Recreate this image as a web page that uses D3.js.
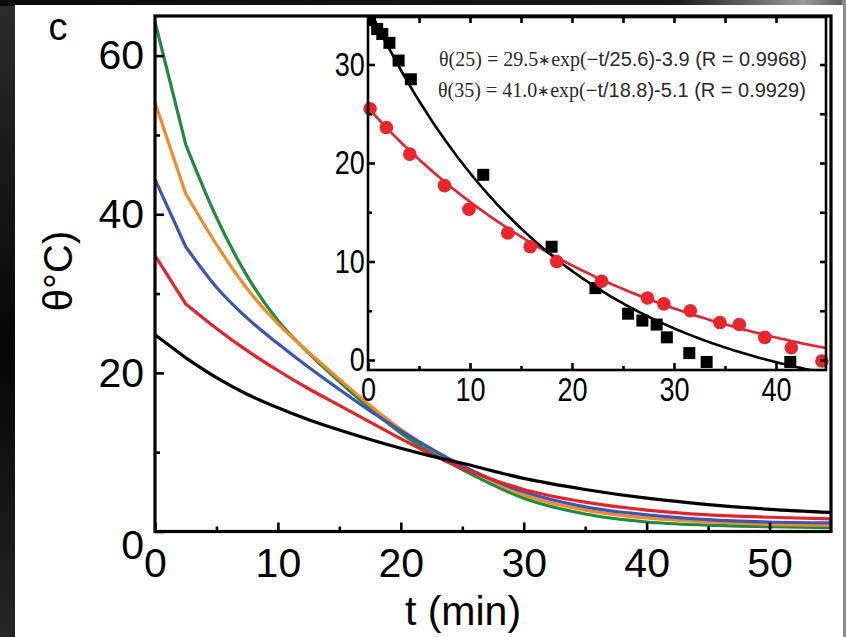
<!DOCTYPE html>
<html>
<head>
<meta charset="utf-8">
<script src="https://cdn.jsdelivr.net/npm/d3@7"></script>
<style>
  html, body { margin: 0; padding: 0; background: #000; }
  svg { display: block; }
</style>
</head>
<body>
<svg id="chart" width="846" height="637"></svg>
<script>
// ---- Main panel: cooling curves for five starting temperatures ----
const times = [0, 2.5, 5, 7.5, 10, 12.5, 15, 17.5, 20, 22.5, 25, 30, 35, 40, 45, 50, 55];
const theta25 = [24.8, 21.9, 19.4, 17.3, 15.6, 14.1, 12.8, 11.6, 10.5, 9.5, 8.6, 6.7, 5.3, 4.2, 3.4, 2.8, 2.4];
const theta35 = [34.8, 28.7, 25.6, 22.8, 20.3, 18.0, 15.9, 13.8, 11.7, 9.7, 8.0, 5.3, 3.7, 2.7, 2.1, 1.8, 1.6];
const theta45 = [44.4, 35.9, 30.8, 26.9, 23.7, 20.7, 17.9, 15.2, 12.7, 10.4, 8.3, 5.0, 3.1, 2.1, 1.5, 1.2, 1.1];
const theta55 = [54.1, 42.6, 36.2, 30.6, 26.2, 22.6, 19.2, 15.9, 12.9, 10.4, 8.3, 4.6, 2.7, 1.7, 1.2, 0.9, 0.8];
const theta65 = [64.3, 48.8, 39.6, 32.2, 26.6, 22.5, 18.9, 15.5, 12.4, 9.9, 7.8, 4.2, 2.2, 1.2, 0.8, 0.6, 0.5];
const mainSeries = [
  { name: "65", values: theta65, color: "#1e8b3e" },
  { name: "55", values: theta55, color: "#f28a2a" },
  { name: "45", values: theta45, color: "#3b56b5" },
  { name: "35", values: theta35, color: "#e5232b" },
  { name: "25", values: theta25, color: "#000000" }
];
const mainXTicks = [0, 10, 20, 30, 40, 50];
const mainXMinor = [5, 15, 25, 35, 45];
const mainYTicks = [0, 20, 40, 60];
const mainYMinor = [10, 30, 50];

// ---- Inset: measured points and exponential fits ----
const squareT = [0.2, 0.9, 1.4, 2.1, 3.0, 4.2, 11.3, 18.0, 22.3, 25.5, 26.9, 28.3, 29.3, 31.5, 33.2, 41.4];
const squareTheta = [34.5, 33.6, 33.1, 32.2, 30.4, 28.5, 18.8, 11.5, 7.3, 4.7, 4.0, 3.6, 2.3, 0.7, -0.2, -0.2];
const circleT = [0.2, 1.8, 4.1, 7.5, 9.9, 13.7, 15.9, 18.5, 22.9, 27.4, 29.0, 31.6, 34.5, 36.4, 38.9, 41.5, 44.5];
const circleTheta = [25.5, 23.6, 20.9, 17.7, 15.3, 12.9, 11.5, 10.0, 8.0, 6.3, 5.7, 5.0, 3.8, 3.6, 2.3, 1.25, -0.1];
// fit parameters as printed: theta = A*exp(-t/tau) + C
const fitLabels = ["θ(25)", "θ(35)"];
const fitA = [29.5, 41.0];
const fitTau = [25.6, 18.8];
const fitC = [-3.9, -5.1];
const fitR = ["0.9968", "0.9929"];
const fitColors = ["#e5232b", "#000000"];
const insetXTicks = [0, 10, 20, 30, 40];
const insetXMinor = [5, 15, 25, 35];
const insetYTicks = [0, 10, 20, 30];
const insetYMinor = [5, 15, 25];

const svg = d3.select("#chart");
const sans = "'Liberation Sans', Arial, sans-serif";
const serif = "'Liberation Serif', 'Times New Roman', serif";

// ---- backdrop ----
const defs = svg.append("defs");
const leftGrad = defs.append("linearGradient").attr("id", "leftGrad")
  .attr("x1", 0).attr("y1", 0).attr("x2", 0).attr("y2", 1);
leftGrad.append("stop").attr("offset", "0%").attr("stop-color", "#2c2c2c");
leftGrad.append("stop").attr("offset", "55%").attr("stop-color", "#050505");
leftGrad.append("stop").attr("offset", "100%").attr("stop-color", "#262626");
const topGrad = defs.append("linearGradient").attr("id", "topGrad")
  .attr("x1", 0).attr("y1", 0).attr("x2", 1).attr("y2", 0);
topGrad.append("stop").attr("offset", "0%").attr("stop-color", "#0a0a0a");
topGrad.append("stop").attr("offset", "80%").attr("stop-color", "#1a1a1a");
topGrad.append("stop").attr("offset", "95%").attr("stop-color", "#9a9a9a");
topGrad.append("stop").attr("offset", "100%").attr("stop-color", "#555");

svg.append("rect").attr("width", 846).attr("height", 637).attr("fill", "url(#leftGrad)");
svg.append("rect").attr("width", 846).attr("height", 6).attr("fill", "url(#topGrad)");
svg.append("rect").attr("x", 842).attr("y", 0).attr("width", 4).attr("height", 637).attr("fill", "#8c8c8c");
svg.append("rect").attr("x", 15).attr("y", 5).attr("width", 828).attr("height", 632).attr("fill", "#ffffff");

// ---- main chart ----
const M = { left: 155, right: 831, top: 16, bottom: 531.5 };
const x = d3.scaleLinear().domain([0, 55]).range([M.left, M.right]);
const y = d3.scaleLinear().domain([0, 65]).range([M.bottom, M.top]);

const main = svg.append("g");
// first reading interval is drawn straight (sharp initial drop), the rest smoothed
const lineStraight = d3.line().x(d => x(d[0])).y(d => y(d[1]));
const lineSmooth = d3.line().x(d => x(d[0])).y(d => y(d[1])).curve(d3.curveMonotoneX);
function curvePath(values) {
  const pts = times.map((t, i) => [t, values[i]]);
  const head = lineStraight(pts.slice(0, 2));
  const tail = lineSmooth(pts.slice(1)).replace(/^M[^A-Za-z]*/, "");
  return head + tail;
}
main.append("g").selectAll("path").data(mainSeries).join("path")
  .attr("d", s => curvePath(s.values))
  .attr("fill", "none").attr("stroke", s => s.color)
  .attr("stroke-width", 3.2).attr("stroke-linejoin", "round");

function styleAxis(g, size) {
  g.select(".domain").remove();
  g.selectAll(".tick line").attr("stroke", "#000").attr("stroke-width", 2.6);
  g.selectAll(".tick text").attr("fill", "#000").attr("font-family", sans).attr("font-size", size);
}

const xAxis = main.append("g").attr("transform", `translate(0,${M.bottom})`)
  .call(d3.axisBottom(x).tickValues(mainXTicks).tickSize(-9).tickPadding(14).tickFormat(d3.format("d")));
styleAxis(xAxis, 41);
xAxis.selectAll(".tick text").attr("dy", "0.71em").attr("y", 16);
const xMinor = main.append("g").attr("transform", `translate(0,${M.bottom})`)
  .call(d3.axisBottom(x).tickValues(mainXMinor).tickSize(-5).tickFormat(""));
styleAxis(xMinor, 0);

const yAxis = main.append("g").attr("transform", `translate(${M.left},0)`)
  .call(d3.axisLeft(y).tickValues(mainYTicks).tickSize(-9).tickPadding(11).tickFormat(d3.format("d")));
styleAxis(yAxis, 41);
yAxis.selectAll(".tick").filter(d => d === 0).select("text").attr("dy", "0.65em");
const yMinor = main.append("g").attr("transform", `translate(${M.left},0)`)
  .call(d3.axisLeft(y).tickValues(mainYMinor).tickSize(-5).tickFormat(""));
styleAxis(yMinor, 0);

main.append("rect").attr("x", M.left).attr("y", M.top)
  .attr("width", M.right - M.left).attr("height", M.bottom - M.top)
  .attr("fill", "none").attr("stroke", "#000").attr("stroke-width", 3.2);

main.append("text").attr("x", 58).attr("y", 40).attr("text-anchor", "middle")
  .attr("font-family", sans).attr("font-size", 38).text("c");
main.append("text").attr("x", (M.left + M.right) / 2 - 30).attr("y", 625).attr("text-anchor", "middle")
  .attr("font-family", sans).attr("font-size", 41).text("t (min)");
main.append("text").attr("transform", "translate(72,271) rotate(-90)").attr("text-anchor", "middle")
  .attr("font-family", sans).attr("font-size", 40).text("θ°C)");

// ---- inset ----
const I = { left: 368, right: 826, top: 17, bottom: 370 };
const xi = d3.scaleLinear().domain([0, 45]).range([I.left, I.left + 45 * 10.2]);
const yi = d3.scaleLinear().domain([0, 30]).range([360, 360 - 30 * 9.85]);

const inset = svg.append("g");
inset.append("rect").attr("x", I.left).attr("y", I.top)
  .attr("width", I.right - I.left).attr("height", I.bottom - I.top).attr("fill", "#fff");
defs.append("clipPath").attr("id", "insetClip").append("rect")
  .attr("x", I.left).attr("y", I.top).attr("width", I.right - I.left).attr("height", I.bottom - I.top);

const plot = inset.append("g").attr("clip-path", "url(#insetClip)");
const fitT = d3.range(0, 45.01, 0.25);
const fitLine = d3.line().x(d => xi(d[0])).y(d => yi(d[1]));
fitA.forEach((A, k) => {
  plot.append("path")
    .attr("d", fitLine(fitT.map(t => [t, A * Math.exp(-t / fitTau[k]) + fitC[k]])))
    .attr("fill", "none").attr("stroke", fitColors[k]).attr("stroke-width", 2.6);
});
plot.append("g").selectAll("rect").data(squareT).join("rect")
  .attr("x", (t) => xi(t) - 6).attr("y", (t, i) => yi(squareTheta[i]) - 6)
  .attr("width", 12).attr("height", 12).attr("fill", "#000");
inset.append("g").selectAll("circle").data(circleT).join("circle")
  .attr("cx", t => xi(t)).attr("cy", (t, i) => yi(circleTheta[i]))
  .attr("r", 6.8).attr("fill", "#e8262c");

const ixAxis = inset.append("g").attr("transform", `translate(0,${I.bottom})`)
  .call(d3.axisBottom(xi).tickValues(insetXTicks).tickSize(-7).tickPadding(8).tickFormat(d3.format("d")));
styleAxis(ixAxis, 33);
const ixTop = inset.append("g").attr("transform", `translate(0,${I.top})`)
  .call(d3.axisTop(xi).tickValues(insetXTicks.concat(insetXMinor)).tickSize(-6).tickFormat(""));
styleAxis(ixTop, 0);
const ixMinor = inset.append("g").attr("transform", `translate(0,${I.bottom})`)
  .call(d3.axisBottom(xi).tickValues(insetXMinor).tickSize(-4).tickFormat(""));
styleAxis(ixMinor, 0);

const iyAxis = inset.append("g").attr("transform", `translate(${I.left},0)`)
  .call(d3.axisLeft(yi).tickValues(insetYTicks).tickSize(-7).tickPadding(4).tickFormat(d3.format("d")));
styleAxis(iyAxis, 33);
const iyMinor = inset.append("g").attr("transform", `translate(${I.left},0)`)
  .call(d3.axisLeft(yi).tickValues(insetYMinor).tickSize(-4).tickFormat(""));
styleAxis(iyMinor, 0);
const iyRight = inset.append("g").attr("transform", `translate(${I.right},0)`)
  .call(d3.axisRight(yi).tickValues(insetYTicks.concat(insetYMinor)).tickSize(-6).tickFormat(""));
styleAxis(iyRight, 0);
// narrow numerals in the inset
inset.selectAll(".tick text").attr("transform", "scale(0.82,1)");

inset.append("rect").attr("x", I.left).attr("y", I.top)
  .attr("width", I.right - I.left).attr("height", I.bottom - I.top)
  .attr("fill", "none").attr("stroke", "#000").attr("stroke-width", 2.6);

// fit equations
const eqY = [66, 97];
const eqX = [439, 438];
fitA.forEach((A, k) => {
  const t = inset.append("text").attr("x", eqX[k]).attr("y", eqY[k])
    .attr("font-size", 20).attr("fill", "#2a2a2a");
  t.append("tspan").attr("font-family", serif)
    .text(`${fitLabels[k]} = ${A.toFixed(1)}`);
  t.append("tspan").attr("font-family", serif).attr("font-size", 15).attr("dy", -1).text("∗");
  t.append("tspan").attr("font-family", serif).attr("dy", 1).text("exp(");
  t.append("tspan").attr("font-family", sans)
    .text(`−t/${fitTau[k].toFixed(1)})${fitC[k].toFixed(1)} (R = ${fitR[k]})`);
});
</script>
</body>
</html>
